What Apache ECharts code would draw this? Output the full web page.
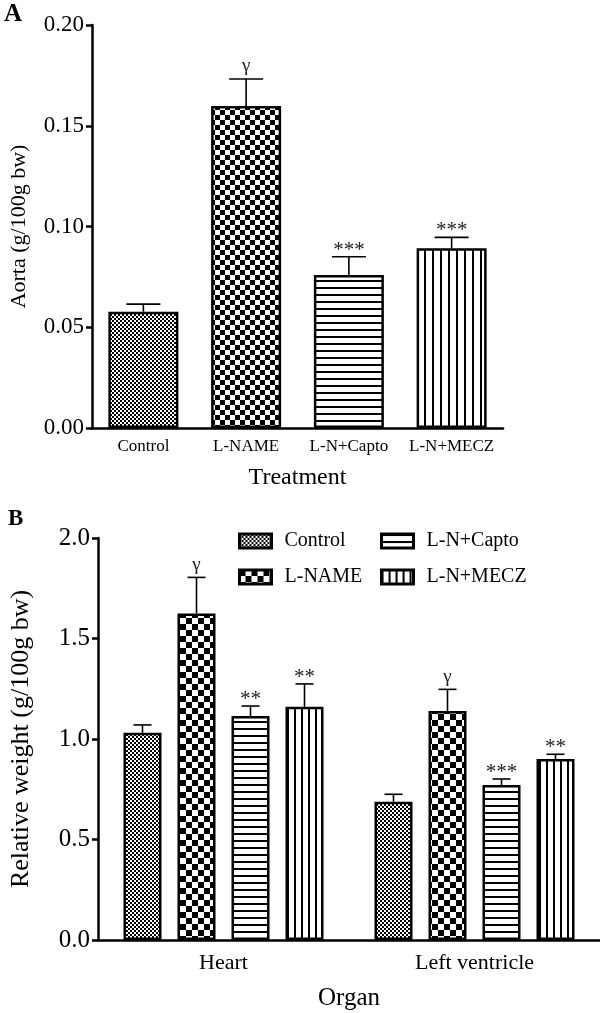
<!DOCTYPE html>
<html><head><meta charset="utf-8">
<script src="https://cdn.jsdelivr.net/npm/echarts@6/dist/echarts.min.js"></script>
<style>html,body{margin:0;padding:0;background:#fff}#c{width:600px;height:1013px}</style>
</head><body><div id="c"></div>
<script>
// ---------- DATA ----------
const treatments = ['Control', 'L-NAME', 'L-N+Capto', 'L-N+MECZ'];
const aortaMean = [0.0577, 0.1598, 0.0759, 0.0892];
const aortaSem = [0.0038, 0.0134, 0.0091, 0.0054];
const aortaSig = ['', 'γ', '***', '***'];
const aortaTicks = ['0.00', '0.05', '0.10', '0.15', '0.20'];

const organs = ['Heart', 'Left ventricle'];
const controlMean = [1.031, 0.688];
const controlSem = [0.039, 0.037];
const controlSig = ['', ''];
const lnameMean = [1.625, 1.139];
const lnameSem = [0.179, 0.108];
const lnameSig = ['γ', 'γ'];
const captoMean = [1.114, 0.771];
const captoSem = [0.050, 0.030];
const captoSig = ['**', '***'];
const meczMean = [1.160, 0.900];
const meczSem = [0.114, 0.024];
const meczSig = ['**', '**'];
const organTicks = ['0.0', '0.5', '1.0', '1.5', '2.0'];

// ---------- STYLE ----------
const FONT = 'Liberation Serif';
function makeCanvas(w, h, draw) {
  const c = document.createElement('canvas'); c.width = w; c.height = h;
  const g = c.getContext('2d'); g.fillStyle = '#fff'; g.fillRect(0, 0, w, h); g.fillStyle = '#000';
  draw(g); return c;
}
function checker(s) { return { image: makeCanvas(2 * s, 2 * s, g => { g.fillRect(0, 0, s, s); g.fillRect(s, s, s, s); }), repeat: 'repeat' }; }
function hLines(step, lw) { return { image: makeCanvas(step, step, g => { g.fillRect(0, 0, step, lw); }), repeat: 'repeat' }; }
function vLines(step, lw) { return { image: makeCanvas(step, step, g => { g.fillRect(0, 0, lw, step); }), repeat: 'repeat' }; }
const patA = [checker(2), checker(5), hLines(7, 2), vLines(8, 2)];
const patB = [checker(2), checker(6), hLines(7, 2), vLines(7, 2)];

function errRender(means, sems, sigs, offset, capHalf, fs) {
  return function (params, api) {
    const i = params.dataIndex;
    const x = api.value(0);
    const base = api.coord([x, means[i]]);
    const top = api.coord([x, means[i] + sems[i]]);
    const cx = base[0] + offset;
    const st = { stroke: '#000', lineWidth: 1.6 };
    const isStar = sigs[i].indexOf('*') >= 0;
    return {
      type: 'group', children: [
        { type: 'line', shape: { x1: cx, y1: base[1], x2: cx, y2: top[1] }, style: st },
        { type: 'line', shape: { x1: cx - capHalf, y1: top[1], x2: cx + capHalf, y2: top[1] }, style: st },
        { type: 'text', x: cx, y: top[1] + (isStar ? 4 : -3), style: { text: sigs[i], fill: '#222', font: (isStar ? fs + 4 : fs + 2) + 'px "' + FONT + '"', align: 'center', verticalAlign: 'bottom' } }
      ]
    };
  };
}

const axisLine = { lineStyle: { color: '#000', width: 2.5 } };
const axisTick = { length: 6, lineStyle: { color: '#000', width: 2.5 } };

const chart = echarts.init(document.getElementById('c'), null, { renderer: 'canvas' });

const groupsB = [
  { name: treatments[0], mean: controlMean, sem: controlSem, sig: controlSig },
  { name: treatments[1], mean: lnameMean, sem: lnameSem, sig: lnameSig },
  { name: treatments[2], mean: captoMean, sem: captoSem, sig: captoSig },
  { name: treatments[3], mean: meczMean, sem: meczSem, sig: meczSig }
];
const BW = 38, BSTEP = 54;

const series = [
  {
    type: 'bar', name: 'Aorta', xAxisIndex: 0, yAxisIndex: 0, barWidth: 70,
    data: aortaMean.map((v, i) => ({ value: v, itemStyle: { color: patA[i], borderColor: '#000', borderWidth: 2.5 } })),
    silent: true
  },
  {
    type: 'custom', xAxisIndex: 0, yAxisIndex: 0, z: 5,
    data: aortaMean.map((v, i) => [i, v]),
    renderItem: errRender(aortaMean, aortaSem, aortaSig, 0, 17, 17)
  }
];
groupsB.forEach((g, k) => {
  series.push({
    type: 'bar', name: g.name, xAxisIndex: 1, yAxisIndex: 1, barWidth: BW, barGap: ((BSTEP - BW) / BW * 100) + '%',
    itemStyle: { color: patB[k], borderColor: '#000', borderWidth: 2.5 },
    data: g.mean
  });
});
groupsB.forEach((g, k) => {
  series.push({
    type: 'custom', xAxisIndex: 1, yAxisIndex: 1, z: 5,
    data: g.mean.map((v, i) => [i, v]),
    renderItem: errRender(g.mean, g.sem, g.sig, (k - 1.5) * BSTEP, 9, 17)
  });
});

const legendCommon = {
  orient: 'vertical', icon: 'rect', itemWidth: 32, itemHeight: 14, itemGap: 16,
  itemStyle: { borderColor: '#000', borderWidth: 3 },
  textStyle: { fontFamily: FONT, fontSize: 20, color: '#000', padding: [0, 0, 0, 8] }
};

chart.setOption({
  animation: false,
  backgroundColor: '#fff',
  textStyle: { fontFamily: FONT },
  grid: [
    { left: 87, top: 25, width: 416, height: 403 },
    { left: 90, top: 538, width: 510, height: 402 }
  ],
  legend: [
    Object.assign({ data: [treatments[0], treatments[1]], left: 233, top: 526 }, legendCommon),
    Object.assign({ data: [treatments[2], treatments[3]], left: 375, top: 526 }, legendCommon)
  ],
  xAxis: [
    {
      type: 'category', gridIndex: 0, data: treatments, axisLine, axisTick: Object.assign({ alignWithLabel: true }, axisTick),
      axisLabel: { color: '#000', fontSize: 17, fontFamily: FONT, margin: 10, interval: 0, hideOverlap: false },
      name: 'Treatment', nameLocation: 'middle', nameGap: 38,
      nameTextStyle: { color: '#000', fontSize: 24, fontFamily: FONT }
    },
    {
      type: 'category', gridIndex: 1, data: organs, axisLine, axisTick: Object.assign({ alignWithLabel: true }, axisTick),
      axisLabel: { color: '#000', fontSize: 22, fontFamily: FONT, margin: 12, interval: 0 },
      name: 'Organ', nameLocation: 'middle', nameGap: 46,
      nameTextStyle: { color: '#000', fontSize: 25, fontFamily: FONT }
    }
  ],
  yAxis: [
    {
      type: 'value', gridIndex: 0, min: 0, max: 0.2, interval: 0.05, axisLine: Object.assign({ show: true }, axisLine), axisTick: Object.assign({ show: true }, axisTick),
      splitLine: { show: false },
      axisLabel: { color: '#000', fontSize: 23, fontFamily: FONT, margin: 8, formatter: (v) => aortaTicks[Math.round(v / 0.05)] },
      name: 'Aorta (g/100g bw)', nameLocation: 'middle', nameGap: 62,
      nameTextStyle: { color: '#000', fontSize: 22, fontFamily: FONT }
    },
    {
      type: 'value', gridIndex: 1, min: 0, max: 2, interval: 0.5, axisLine: Object.assign({ show: true }, axisLine), axisTick: Object.assign({ show: true }, axisTick),
      splitLine: { show: false },
      axisLabel: { color: '#000', fontSize: 25, fontFamily: FONT, margin: 8, formatter: (v) => organTicks[Math.round(v / 0.5)] },
      name: 'Relative weight (g/100g bw)', nameLocation: 'middle', nameGap: 64,
      nameTextStyle: { color: '#000', fontSize: 26, fontFamily: FONT }
    }
  ],
  graphic: [
    { type: 'text', left: 4, top: 2, style: { text: 'A', font: 'bold 25px "' + FONT + '"', fill: '#000' } },
    { type: 'text', left: 8, top: 508, style: { text: 'B', font: 'bold 23px "' + FONT + '"', fill: '#000' } }
  ],
  series
});
</script></body></html>
